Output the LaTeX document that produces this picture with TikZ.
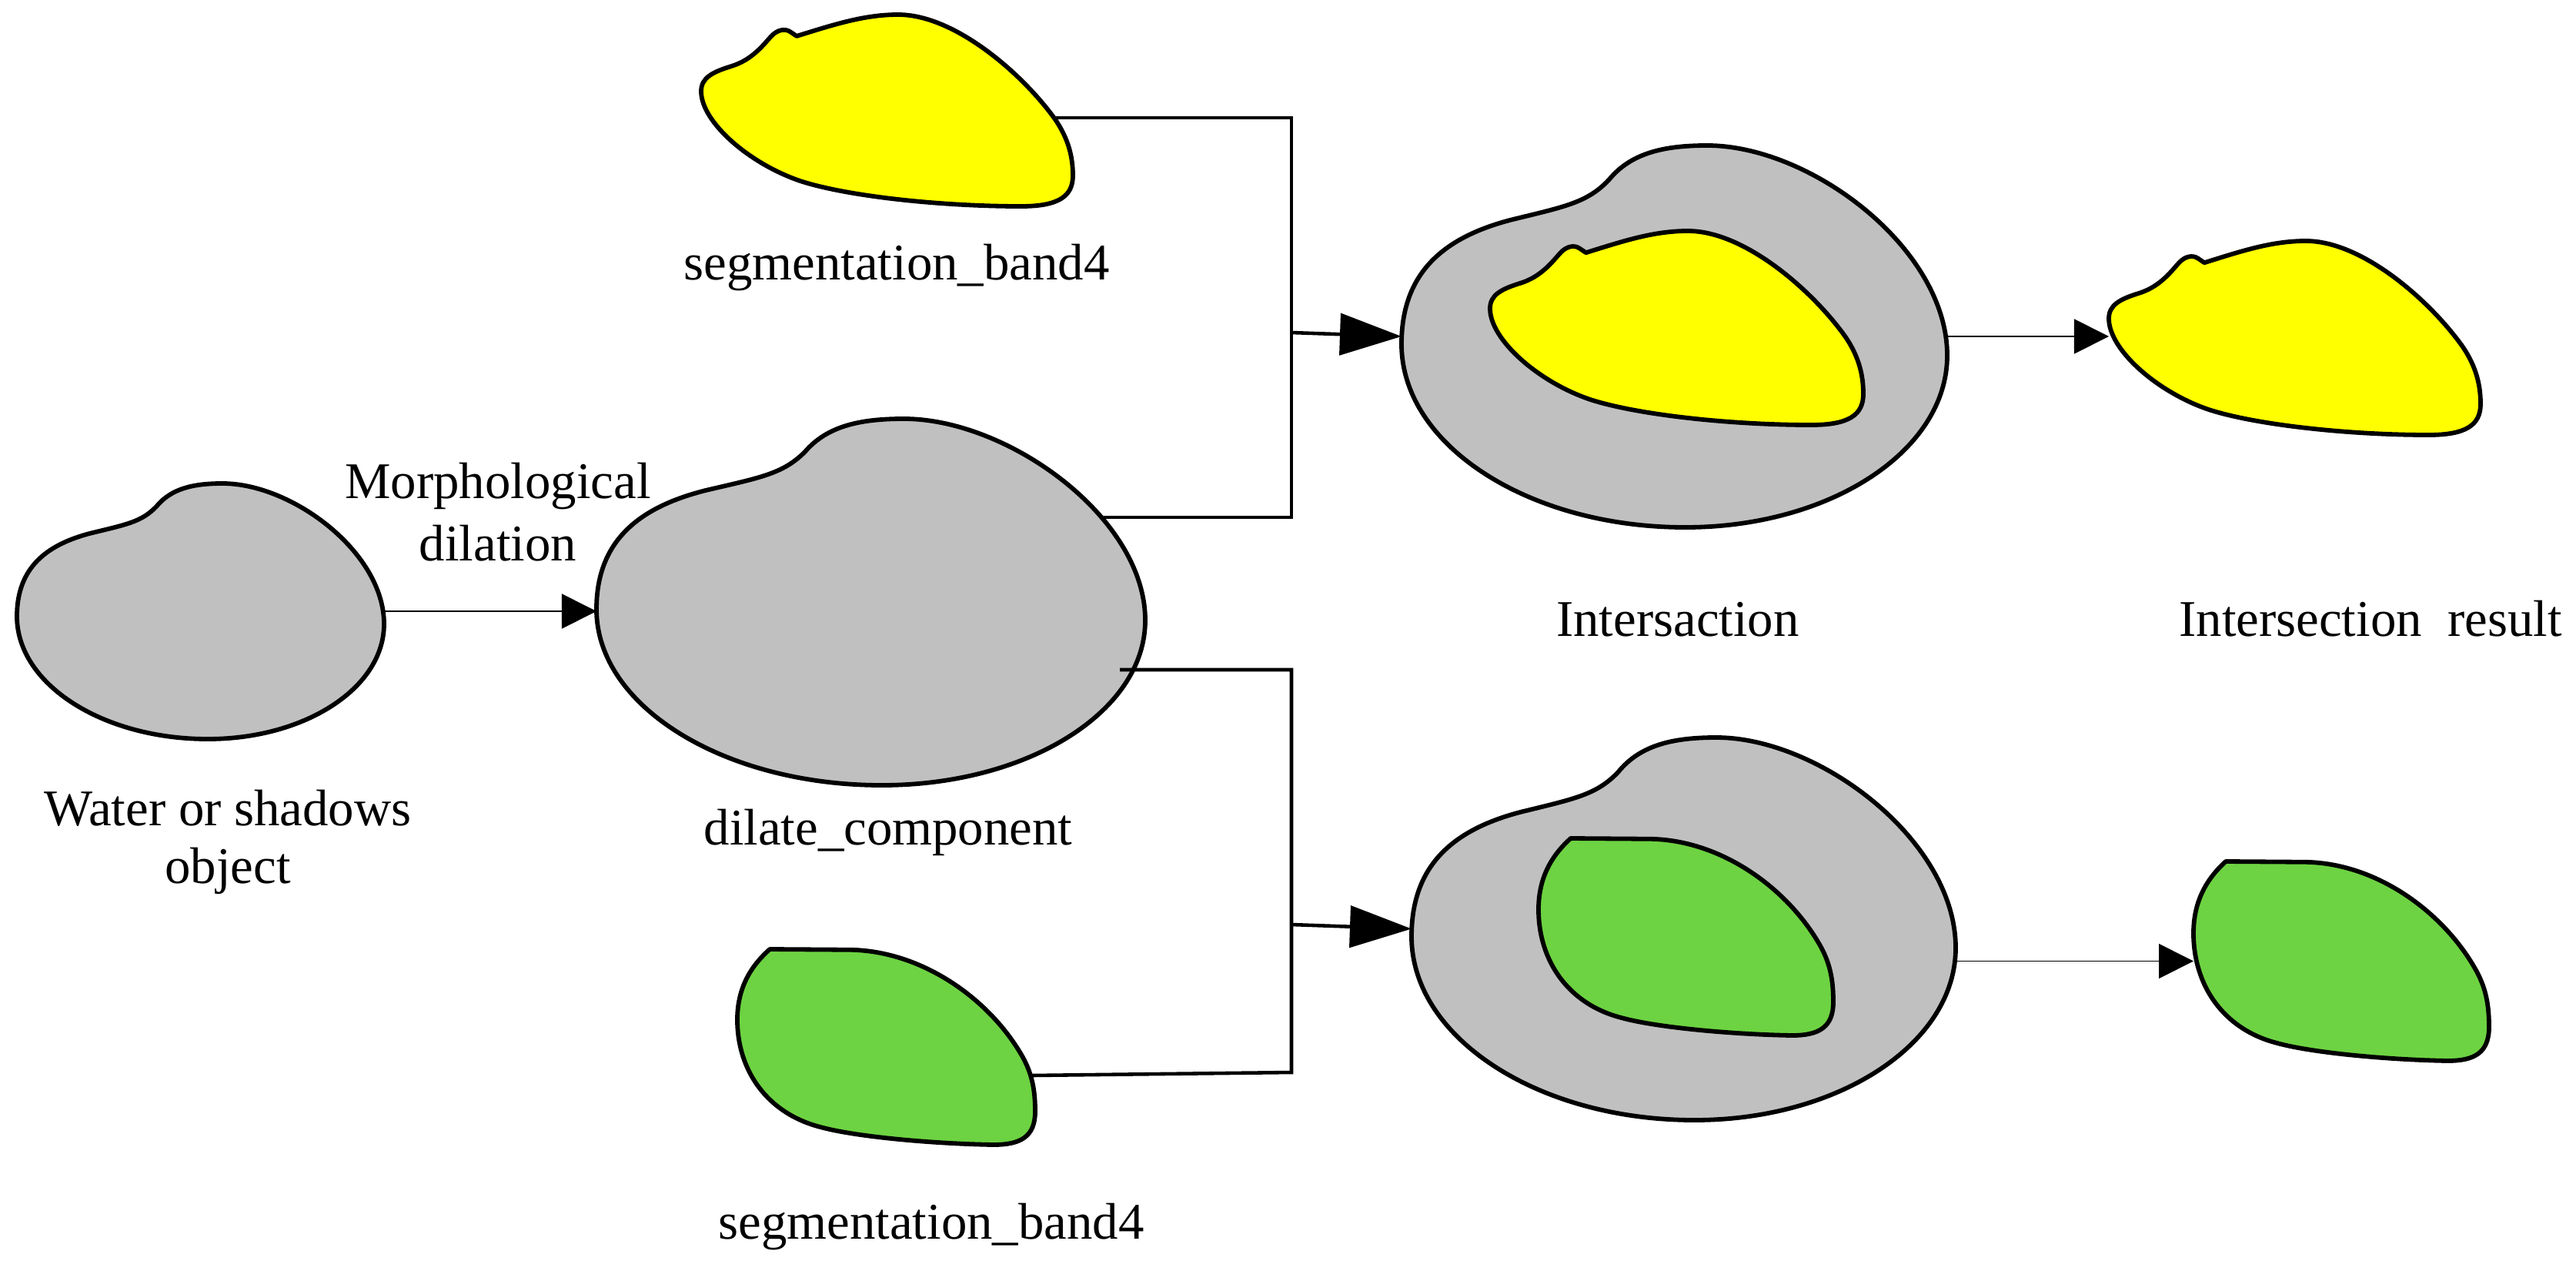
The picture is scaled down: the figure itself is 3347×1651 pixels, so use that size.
\documentclass[tikz,border=0pt]{standalone}
\usepackage{fontspec}
\setmainfont{Liberation Serif}
\usetikzlibrary{arrows.meta}
\definecolor{blobgray}{RGB}{192,192,192}
\definecolor{blobyellow}{RGB}{255,255,0}
\definecolor{blobgreen}{RGB}{109,211,66}
\tikzset{
  blobline/.style={line width=1.65pt, draw=black, line join=round},
  bx/.style 2 args={minimum width=#1*0.01cm, minimum height=#2*0.01cm, inner sep=0pt, outer sep=0pt},
  lbl/.style={inner sep=0pt, font=\fontsize{19}{21.3}\selectfont},
  bus/.style={line width=1.3pt, line join=miter},
  busarrow/.style={line width=1.3pt, -{Triangle[length=0.8cm, width=0.54cm]}},
  thinarrow/.style={line width=0.5pt, -{Triangle[length=0.45cm, width=0.45cm]}},
  grayblob/.pic={
    \filldraw[blobline, fill=blobgray]
      (0,0.52) .. controls (0,0.33) and (0.08,0.24) .. (0.2,0.195)
      .. controls (0.3,0.16) and (0.34,0.15) .. (0.38,0.09)
      .. controls (0.42,0.02) and (0.48,0) .. (0.56,0)
      .. controls (0.75,0) and (1,0.27) .. (1,0.55)
      .. controls (1,0.8) and (0.785,1) .. (0.52,1)
      .. controls (0.233,1) and (0,0.785) .. (0,0.52) -- cycle;
  },
  yellowblob/.pic={
    \filldraw[blobline, fill=blobyellow]
      (0.257,0.112) .. controls (0.36,0.05) and (0.44,0) .. (0.53,0)
      .. controls (0.68,0) and (0.86,0.30) .. (0.95,0.54)
      .. controls (0.99,0.65) and (1,0.75) .. (1,0.84)
      .. controls (1,0.95) and (0.96,1) .. (0.86,1)
      .. controls (0.65,1) and (0.40,0.95) .. (0.27,0.87)
      .. controls (0.13,0.78) and (0,0.56) .. (0,0.40)
      .. controls (0,0.33) and (0.03,0.30) .. (0.08,0.27)
      .. controls (0.14,0.235) and (0.17,0.15) .. (0.19,0.11)
      .. controls (0.205,0.08) and (0.225,0.07) .. (0.24,0.09)
      -- cycle;
  },
  greenblob/.pic={
    \filldraw[blobline, fill=blobgreen]
      (0.109,0) -- (0.38,0.003)
      .. controls (0.62,0.01) and (0.84,0.25) .. (0.95,0.53)
      .. controls (0.99,0.63) and (1,0.72) .. (1,0.83)
      .. controls (1,0.96) and (0.95,1) .. (0.86,1)
      .. controls (0.66,0.995) and (0.40,0.96) .. (0.28,0.91)
      .. controls (0.10,0.84) and (0,0.62) .. (0,0.36)
      .. controls (0,0.19) and (0.05,0.08) .. (0.109,0) -- cycle;
  }
}
\begin{document}
\begin{tikzpicture}[x=0.01cm, y=-0.01cm]
\useasboundingbox (0,0) rectangle (3347,1651);
\fill[white] (0,0) rectangle (3347,1651);

% invisible boxes of the shapes
\node[bx={477}{332}] (obj) at (260.5,794) {};
\node[bx={713}{476}] (dil) at (1131.5,782) {};
\node[bx={709}{496}] (inter1) at (2175.5,437) {};
\node[bx={707}{497}] (inter2) at (2187.5,1206.5) {};
\node[bx={483}{249}] (seg1) at (1152.5,143.5) {};
\node[bx={485}{252}] (in1y) at (2178.5,426) {};
\node[bx={483}{252}] (res1) at (2981.5,439) {};
\node[bx={387}{254}] (seg2) at (1151.5,1360) {};
\node[bx={383}{256}] (in2g) at (2190.5,1217) {};
\node[bx={384}{259}] (res2) at (3042,1248.5) {};

% bus junction points
\coordinate (j1) at (1678,153);
\coordinate (j2) at (1678,672);
\coordinate (j3) at (1678,432);
\coordinate (d1) at (1455,870);
\coordinate (j4) at (1678,870);
\coordinate (j5) at (1678,1393);
\coordinate (j6) at (1678,1201);
\coordinate (g1) at (1341,1397);

% upper bus (under the shapes)
\draw[bus] (seg1.center |- j1) -- (j1) -- (j2) -- (dil.center |- j2);

% shapes
\pic[xscale=477, yscale=332] at (obj.north west) {grayblob};
\pic[xscale=713, yscale=476] at (dil.north west) {grayblob};
\pic[xscale=709, yscale=496] at (inter1.north west) {grayblob};
\pic[xscale=707, yscale=497] at (inter2.north west) {grayblob};
\pic[xscale=483, yscale=249] at (seg1.north west) {yellowblob};
\pic[xscale=485, yscale=252] at (in1y.north west) {yellowblob};
\pic[xscale=483, yscale=252] at (res1.north west) {yellowblob};
\pic[xscale=387, yscale=254] at (seg2.north west) {greenblob};
\pic[xscale=383, yscale=256] at (in2g.north west) {greenblob};
\pic[xscale=384, yscale=259] at (res2.north west) {greenblob};

% lower bus
\draw[bus] (d1) -- (j4) -- (j5) -- (g1);

% arrows
\draw[busarrow] (j3) -- (inter1.west);
\draw[busarrow] (j6) -- (inter2.west);
\draw[thinarrow] (obj.east) -- (dil.west |- obj.east);
\draw[thinarrow] (inter1.east) -- (res1.west |- inter1.east);
\draw[thinarrow] (inter2.east |- res2.west) -- (res2.west);

% labels
\node[lbl, align=center, font=\fontsize{19}{21.3}\selectfont] (tobj) at (296,1094) {Water or shadows\\object};
\node[lbl, align=center, font=\fontsize{19}{23}\selectfont] (tmor) at (647,665) {Morphological\\dilation};
\node[lbl, anchor=base] (tseg1) at (1165,363) {segmentation\_band4};
\node[lbl, anchor=base] (tdil) at (1154,1097) {dilate\_component};
\node[lbl, anchor=base] (tseg2) at (1210,1609) {segmentation\_band4};
\node[lbl, anchor=base] (tint) at (2180,826) {Intersaction};
\node[lbl, anchor=base] (tres) at (3080,826) {Intersection\ \ result};
\end{tikzpicture}
\end{document}
